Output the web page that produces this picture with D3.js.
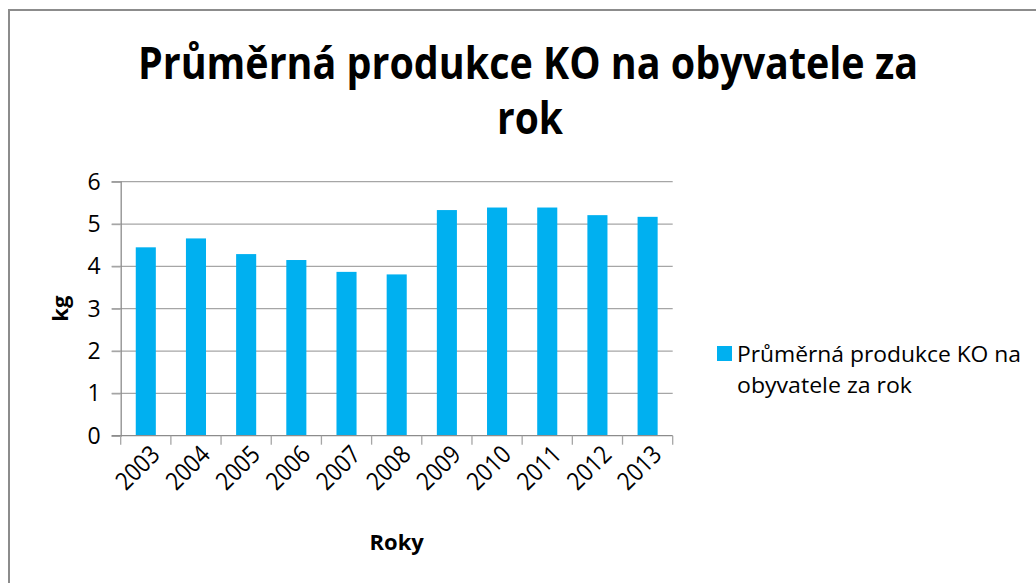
<!DOCTYPE html>
<html><head><meta charset="utf-8">
<script src="https://cdn.jsdelivr.net/npm/d3@7"></script>
<style>
html,body{margin:0;padding:0;background:#fff;}
text{font-family:"Open Sans","Noto Sans",sans-serif;fill:#000;}
</style></head>
<body>
<svg id="c" width="1036" height="583"></svg>
<script>
const years = ["2003","2004","2005","2006","2007","2008","2009","2010","2011","2012","2013"];
const values = [4.45,4.66,4.29,4.15,3.87,3.81,5.33,5.39,5.39,5.21,5.17];
const yTicks = [0,1,2,3,4,5,6];
const seriesName = "Průměrná produkce KO na obyvatele za rok";
const titleLines = ["Průměrná produkce KO na obyvatele za","rok"];
const legendLines = ["Průměrná produkce KO na","obyvatele za rok"];
const xTitle = "Roky", yTitle = "kg";

const svg = d3.select("#c");
const barColor = "#00B0F0";
const gridColor = "#A6A6A6";

// chart frame
svg.append("line").attr("x1",8).attr("x2",1036).attr("y1",10).attr("y2",10).attr("stroke","#8c8c8c").attr("stroke-width",2);
svg.append("line").attr("x1",9).attr("x2",9).attr("y1",9).attr("y2",583).attr("stroke","#8c8c8c").attr("stroke-width",2);

const L=120.7, R=672.7, T=181.7, B=435.7;
const x = d3.scaleBand().domain(years).range([L,R]).paddingInner(0.6).paddingOuter(0.3);
const y = d3.scaleLinear().domain([0,6]).range([B,T]);

// gridlines
svg.append("g").selectAll("line").data(yTicks.filter(d=>d>0)).join("line")
  .attr("x1",L-9).attr("x2",R).attr("y1",d=>y(d)).attr("y2",d=>y(d))
  .attr("stroke",gridColor).attr("stroke-width",1.3);

// bars
svg.append("g").selectAll("rect").data(values).join("rect")
  .attr("x",(d,i)=>x(years[i])).attr("width",x.bandwidth())
  .attr("y",d=>y(d)).attr("height",d=>B-y(d)).attr("fill",barColor);

// y axis
const yAxis = svg.append("g").attr("transform",`translate(${L},0)`)
  .call(d3.axisLeft(y).tickValues(yTicks).tickSize(9).tickPadding(11).tickFormat(d3.format("d")));
yAxis.select(".domain").attr("stroke","#8c8c8c").attr("stroke-width",1.3);
yAxis.selectAll(".tick line").attr("stroke",gridColor).attr("stroke-width",1.3);
yAxis.selectAll("text").style("font-size","23px").attr("fill","#000");

// x axis
const xs = d3.scalePoint().domain(d3.range(years.length+1)).range([L,R]);
const xAxisG = svg.append("g").attr("transform",`translate(0,${B})`);
xAxisG.append("line").attr("x1",L-9).attr("x2",R).attr("stroke","#8c8c8c").attr("stroke-width",1.3);
xAxisG.selectAll("line.t").data(d3.range(years.length+1)).join("line").attr("class","t")
  .attr("x1",d=>xs(d)).attr("x2",d=>xs(d)).attr("y1",0).attr("y2",9)
  .attr("stroke",gridColor).attr("stroke-width",1.3);
xAxisG.selectAll("text").data(years).join("text")
  .attr("transform",d=>`translate(${x(d)+x.bandwidth()/2+3},${8}) rotate(-45)`)
  .attr("text-anchor","end").attr("dy","0.71em")
  .style("font-size","25px").attr("textLength",50).attr("lengthAdjust","spacingAndGlyphs").text(d=>d);

// axis titles
svg.append("text").attr("x",(L+R)/2).attr("y",550).attr("text-anchor","middle")
  .style("font-size","22px").style("font-weight","bold").text(xTitle);
svg.append("text").attr("transform",`translate(68,${(T+B)/2}) rotate(-90)`).attr("text-anchor","middle")
  .style("font-size","22px").style("font-weight","bold").text(yTitle);

// title
const tl = svg.append("g");
tl.append("text").attr("x",528).attr("y",79).attr("text-anchor","middle")
  .style("font-size","44px").style("font-weight","bold")
  .attr("textLength",780).attr("lengthAdjust","spacingAndGlyphs").text(titleLines[0]);
tl.append("text").attr("x",530).attr("y",134).attr("text-anchor","middle")
  .style("font-size","44px").style("font-weight","bold")
  .attr("textLength",66).attr("lengthAdjust","spacingAndGlyphs").text(titleLines[1]);

// legend
const lg = svg.append("g");
lg.append("rect").attr("x",717).attr("y",346).attr("width",15).attr("height",15).attr("fill",barColor);
lg.append("text").attr("x",737).attr("y",362).style("font-size","22px")
  .attr("textLength",284).attr("lengthAdjust","spacingAndGlyphs").text(legendLines[0]);
lg.append("text").attr("x",737).attr("y",393).style("font-size","22px")
  .attr("textLength",175).attr("lengthAdjust","spacingAndGlyphs").text(legendLines[1]);
</script>
</body></html>
